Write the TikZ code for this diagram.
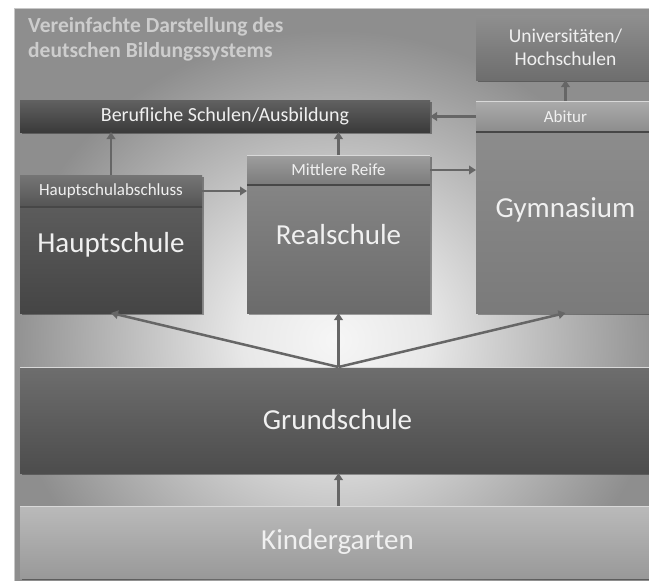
\documentclass[tikz,border=0pt]{standalone}
\usepackage{fontspec}
\setmainfont{Carlito}
\usetikzlibrary{arrows.meta,shadows,calc}
\definecolor{arrc}{HTML}{666666}
\definecolor{txtc}{HTML}{F0F0F0}
\definecolor{titc}{HTML}{CDCDCD}
\definecolor{bgA}{HTML}{F6F6F6}
\definecolor{bgB}{HTML}{E8E8E8}
\definecolor{bgC}{HTML}{C0C0C0}
\definecolor{bgD}{HTML}{8E8E8E}
\pgfdeclareradialshading{bgshade}{\pgfpoint{0bp}{0bp}}{color(0bp)=(bgA); color(3.5bp)=(bgB); color(7.5bp)=(bgC); color(12.5bp)=(bgD); color(50bp)=(bgD)}
\begin{document}
\begin{tikzpicture}[x=1pt,y=-1pt,
  bx/.style={anchor=north west, inner sep=0pt, outer sep=0pt, draw=none, text=txtc, align=center,
    drop shadow={shadow xshift=1.5pt, shadow yshift=-2pt, opacity=0.35, fill=black}},
  big/.style={text=txtc, inner sep=0pt, font=\fontsize{29}{33}\selectfont},
  mid/.style={font=\fontsize{20}{24}\selectfont},
  sml/.style={font=\fontsize{17}{20}\selectfont},
  sep/.style={draw=black!72, line width=1.2pt},
  hil/.style={draw=white!70!gray, line width=1pt},
  con/.style={draw=arrc, line width=2.5pt, -{Triangle[length=7pt,width=8.5pt]}}]
\useasboundingbox (0,0) rectangle (649,581);
% panel
\begin{scope}
  \clip (14,8) rectangle (660,590);
  \shade[shading=bgshade] (335,340) ellipse [x radius=660pt, y radius=620pt];
\end{scope}
\draw[black!22, line width=1pt] (14,8) rectangle (660,590);
% title
\node[anchor=north west, inner sep=0pt, align=left, text=titc, font=\bfseries\fontsize{21.5}{25}\selectfont] (title) at (28,17)
  {Vereinfachte Darstellung des\\deutschen Bildungssystems};
% boxes
\node[bx, top color=black!44, bottom color=black!57, minimum width=179pt, minimum height=65pt, font=\fontsize{19.5}{23}\selectfont] (uni) at (476,15) {Universitäten/\\Hochschulen};
\node[bx, top color=black!62, bottom color=black!77, minimum width=410pt, minimum height=32pt, mid] (beruf) at (20,100) {Berufliche Schulen/Ausbildung};
\node[bx, top color=black!33, bottom color=black!45, minimum width=179pt, minimum height=31pt, sml] (abi) at (476,101) {Abitur};
\node[bx, top color=black!45, bottom color=black!52, minimum width=179pt, minimum height=181pt] (gym) at (476,132) {};
\node[bx, top color=black!38, bottom color=black!52, minimum width=183pt, minimum height=30pt, sml] (mr) at (247,155) {Mittlere Reife};
\node[bx, top color=black!48, bottom color=black!58, minimum width=183pt, minimum height=128pt] (real) at (247,185) {};
\node[bx, top color=black!54, bottom color=black!67, minimum width=182pt, minimum height=32pt, sml] (hsa) at (20,175) {Hauptschulabschluss};
\node[bx, top color=black!64, bottom color=black!73, minimum width=182pt, minimum height=106pt] (haupt) at (20,207) {};
\node[bx, top color=black!57, bottom color=black!70, minimum width=635pt, minimum height=106pt, font=\fontsize{29}{33}\selectfont] (grund) at (20,367) {Grundschule};
\node[bx, top color=black!27, bottom color=black!40, minimum width=635pt, minimum height=72pt, font=\fontsize{29}{33}\selectfont] (kinder) at (20,506) {Kindergarten};
% header separators and top highlights
\draw[sep] (abi.south west) -- (abi.south east);
\draw[sep] (mr.south west) -- (mr.south east);
\draw[sep] (hsa.south west) -- (hsa.south east);
\draw[hil] (abi.north west) -- (abi.north east);
\draw[hil] (mr.north west) -- (mr.north east);
\draw[hil] (grund.north west) -- (grund.north east);
\draw[hil] (kinder.north west) -- (kinder.north east);
% body labels
\node[big] (gymtxt) at ([yshift=-78pt]gym.north) {Gymnasium};
\node[big] (realtxt) at ([yshift=-50pt]real.north) {Realschule};
\node[big] (hauptxt) at ([yshift=-38pt]haupt.north) {Hauptschule};
% connectors
\coordinate (gtop) at (grund.north -| real.south);
\draw[con] (hsa.north) -- (hsa.north |- beruf.south);
\draw[con] (hsa.east) -- (hsa.east -| mr.west);
\draw[con] (mr.north) -- (mr.north |- beruf.south);
\draw[con] (mr.east) -- (mr.east -| gym.west);
\draw[con] (abi.west) -- (abi.west -| beruf.east);
\draw[con] (abi.north) -- (abi.north |- uni.south);
\draw[con] (gtop) -- (haupt.south);
\draw[con] (gtop) -- (real.south);
\draw[con] (gtop) -- (gym.south);
\draw[con] (kinder.north -| real.south) -- (grund.south -| real.south);
\end{tikzpicture}
\end{document}
